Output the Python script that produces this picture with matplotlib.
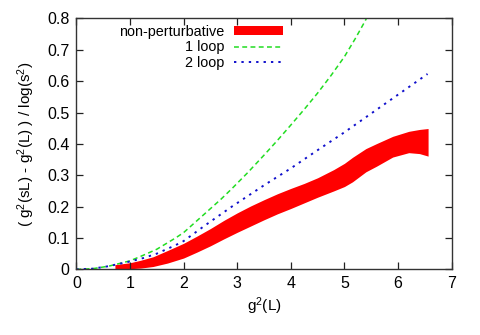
import matplotlib
matplotlib.use('Agg')
import matplotlib.pyplot as plt

# non-perturbative band
np_x     = [0.72, 1.0, 1.2, 1.43, 1.7, 2.0, 2.25, 2.5, 2.75, 3.0, 3.25, 3.5, 3.75, 4.0, 4.25, 4.5, 4.8, 5.0, 5.15, 5.4, 5.6, 5.9, 6.2, 6.4, 6.56]
np_upper = [0.015, 0.021, 0.029, 0.040, 0.060, 0.083, 0.106, 0.130, 0.156, 0.180, 0.202, 0.222, 0.241, 0.258, 0.274, 0.292, 0.318, 0.338, 0.357, 0.385, 0.401, 0.424, 0.440, 0.446, 0.449]
np_lower = [0.000, 0.002, 0.004, 0.009, 0.020, 0.036, 0.055, 0.075, 0.097, 0.118, 0.138, 0.158, 0.177, 0.194, 0.212, 0.230, 0.250, 0.264, 0.279, 0.311, 0.329, 0.358, 0.372, 0.369, 0.361]

# 1 loop
loop1_x = [0.0, 0.3, 0.6, 1.0, 1.25, 1.5, 1.85, 2.0, 2.4, 2.7, 2.9, 3.2, 3.5, 3.75, 4.0, 4.25, 4.5, 4.75, 5.0, 5.2, 5.38, 5.5]
loop1_y = [0.0, 0.002, 0.010, 0.027, 0.045, 0.064, 0.100, 0.117, 0.178, 0.224, 0.257, 0.309, 0.364, 0.411, 0.460, 0.510, 0.562, 0.618, 0.678, 0.735, 0.790, 0.830]

# 2 loop
loop2_x = [0.0, 0.3, 0.6, 1.0, 1.25, 1.5, 1.85, 2.0, 2.4, 2.9, 3.5, 4.0, 4.5, 5.0, 5.5, 6.0, 6.55]
loop2_y = [0.0, 0.002, 0.010, 0.025, 0.036, 0.050, 0.077, 0.090, 0.140, 0.200, 0.268, 0.322, 0.380, 0.437, 0.497, 0.557, 0.623]

x_ticks = [0, 1, 2, 3, 4, 5, 6, 7]
y_ticks = [0, 0.1, 0.2, 0.3, 0.4, 0.5, 0.6, 0.7, 0.8]
y_ticklabels = ['0', '0.1', '0.2', '0.3', '0.4', '0.5', '0.6', '0.7', '0.8']

plt.rcParams['font.family'] = ['Liberation Sans', 'DejaVu Sans']
plt.rcParams['mathtext.fontset'] = 'custom'
plt.rcParams['mathtext.rm'] = 'Liberation Sans'
plt.rcParams['mathtext.it'] = 'Liberation Sans'
plt.rcParams['font.size'] = 11

fig = plt.figure(figsize=(4.8, 3.35), dpi=100)
ax = fig.add_axes([0.159, 0.196, 0.782, 0.749])

ax.fill_between(np_x, np_lower, np_upper, color='#ff0000', linewidth=0,
                label='non-perturbative')
ax.plot(loop1_x, loop1_y, color='#22dd22', linestyle=(0, (3.2, 2.2)),
        linewidth=1.1, label='1 loop')
ax.plot(loop2_x, loop2_y, color='#1010cc', linestyle=(0, (1.2, 2.6)),
        linewidth=1.4, label='2 loop')

ax.set_xlim(0, 7)
ax.set_ylim(0, 0.8)
ax.set_xticks(x_ticks)
ax.set_yticks(y_ticks)
ax.set_yticklabels(y_ticklabels)
ax.tick_params(direction='in', length=5, width=0.9, top=True, right=True,
               pad=5, colors='#222222', labelcolor='black', labelsize=11.5)
for s in ax.spines.values():
    s.set_color('#333333')
    s.set_linewidth(1.0)

ax.set_xlabel('g$^2$(L)', labelpad=3)
ax.set_ylabel('( g$^2$(sL) - g$^2$(L) ) / log(s$^2$)', labelpad=7)

leg = ax.legend(loc='upper right', bbox_to_anchor=(0.575, 1.01), frameon=False,
                markerfirst=False, handlelength=3.4, handletextpad=0.7,
                labelspacing=0.12, borderaxespad=0.2, fontsize=10.4,
                handleheight=0.55)
for t in leg.get_texts():
    t.set_ha('right')

fig.savefig('out.png', dpi=100)
